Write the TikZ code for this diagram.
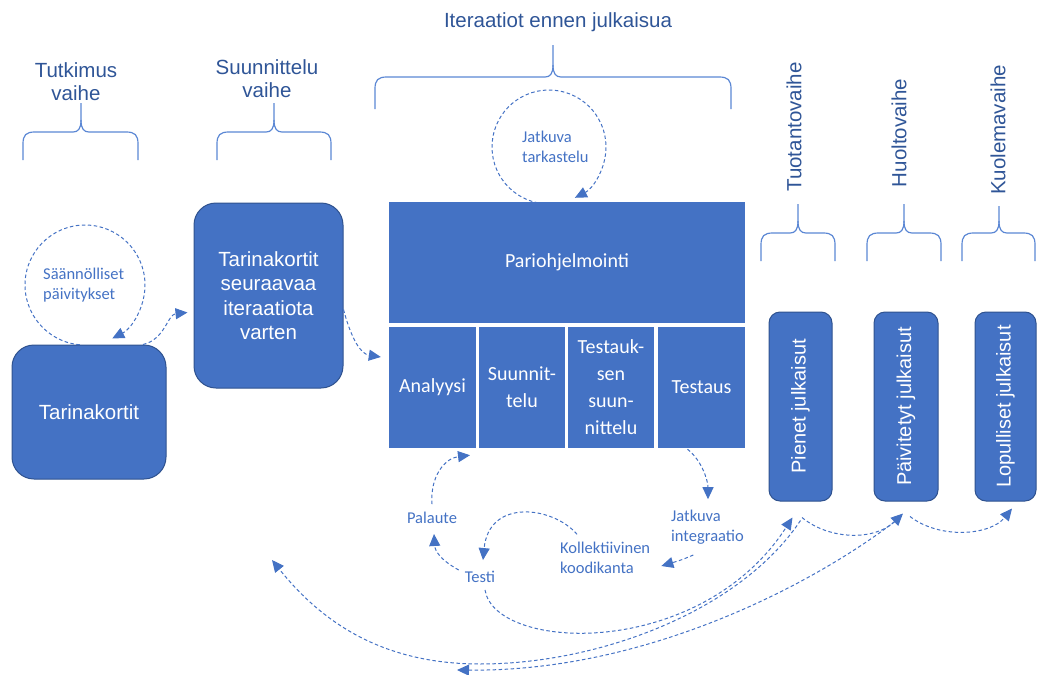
\documentclass[tikz,border=0pt]{standalone}
\usepackage{fontspec}
\setmainfont{Liberation Sans}
\newfontfamily\calfont{Carlito}
\usetikzlibrary{arrows.meta,calc}
\definecolor{boxblue}{RGB}{68,114,196}
\definecolor{boxedge}{RGB}{47,82,143}
\definecolor{headblue}{RGB}{47,85,151}
\definecolor{lineblue}{RGB}{68,114,196}
\definecolor{bracecol}{RGB}{91,135,212}
\tikzset{
  bracestyle/.style={draw=bracecol, line width=1.2pt, line join=round},
  head/.style={text=headblue, font=\fontsize{20.5}{23}\selectfont, align=center, inner sep=0pt},
  rbox/.style={fill=boxblue, draw=boxedge, line width=1pt, rounded corners=22pt, text=white,
               font=\fontsize{20.5}{24.5}\selectfont, align=center},
  relbox/.style={fill=boxblue, draw=boxedge, line width=1pt, rounded corners=11pt, text=white,
               font=\fontsize{20}{24}\selectfont, rotate=90, minimum height=63pt, minimum width=189pt},
  cell/.style={fill=boxblue, text=white, font=\calfont\fontsize{20}{27}\selectfont, align=center, inner sep=0pt},
  lbl/.style={text=lineblue, font=\calfont\fontsize{16.5}{19.5}\selectfont, inner sep=1pt},
  dl/.style={draw=lineblue, line width=1pt, dash pattern=on 3.5pt off 2.5pt,
             -{Triangle[length=12pt,width=11pt]}},
}
\newcommand\mybrace[6]{%
 \draw[bracestyle] (#1,-#6) -- (#1,{-#5-12}) .. controls (#1,{-#5-3}) and ({#1+3},-#5) .. ({#1+12},-#5) -- ({#3-8},-#5) .. controls ({#3-3},-#5) and (#3,{-#5+3}) .. (#3,{-#5+12}) -- (#3,-#4);
 \draw[bracestyle] (#3,{-#5+12}) .. controls (#3,{-#5+3}) and ({#3+3},-#5) .. ({#3+8},-#5) -- ({#2-12},-#5) .. controls ({#2-3},-#5) and (#2,{-#5-3}) .. (#2,{-#5-12}) -- (#2,-#6);
}
\begin{document}
\begin{tikzpicture}[x=1pt,y=1pt]
\useasboundingbox (0,0) rectangle (1037,-675);

% headers
\node[head] (tut) at (76,-82) {Tutkimus\\vaihe};
\node[head] (suu) at (267,-79) {Suunnittelu\\vaihe};
\node[head] (ite) at (558,-22) {Iteraatiot ennen julkaisua};
\node[head, rotate=90] (tuo) at (794,-127) {Tuotantovaihe};
\node[head, rotate=90] (huo) at (899,-133) {Huoltovaihe};
\node[head, rotate=90] (kuo) at (998,-130) {Kuolemavaihe};

% braces
\mybrace{23}{138}{81}{103}{132}{160}
\mybrace{217}{331}{274}{103}{132}{160}
\mybrace{375}{731}{553}{45}{77}{109}
\mybrace{761}{835}{798}{204}{233}{261}
\mybrace{867}{941}{904}{204}{233}{261}
\mybrace{962}{1035}{999}{206}{233}{261}

% boxes
\node[rbox, minimum width=154pt, minimum height=134pt] (tk) at (89,-412) {Tarinakortit};
\node[rbox, minimum width=149pt, minimum height=185pt] (seur) at (268.5,-295.5) {Tarinakortit\\seuraavaa\\iteraatiota\\varten};

\node[cell, minimum width=356pt, minimum height=121pt] (pari) at (567,-262.5) {Pariohjelmointi};
\node[cell, minimum width=87pt, minimum height=121pt] (ana) at (432.5,-387.5) {Analyysi};
\node[cell, minimum width=86pt, minimum height=121pt] (suun) at (522,-387.5) {Suunnit-\\telu};
\node[cell, minimum width=86pt, minimum height=121pt] (tsuun) at (611,-387.5) {Testauk-\\sen\\suun-\\nittelu};
\node[cell, minimum width=87pt, minimum height=121pt] (tst) at (701.5,-387.5) {Testaus};

\node[relbox] (pienet) at (800.5,-406.5) {Pienet julkaisut};
\node[relbox, minimum height=64pt] (paiv) at (906,-406.5) {Päivitetyt julkaisut};
\node[relbox, minimum height=61pt] (lop) at (1005.5,-406.5) {Lopulliset julkaisut};

% labels
\node[lbl, align=left, anchor=west] (saan) at (42,-285) {Säännölliset\\päivitykset};
\node[lbl, align=left, anchor=west] (jtark) at (521,-147) {Jatkuva\\tarkastelu};
\node[lbl] (pal) at (432,-518) {Palaute};
\node[lbl] (testi) at (480,-577) {Testi};
\node[lbl, align=left, anchor=west] (koll) at (559,-558) {Kollektiivinen\\koodikanta};
\node[lbl, align=left, anchor=west] (jint) at (670,-527) {Jatkuva\\integraatio};

% loop circles
\coordinate (saanc) at (85,-285);
\coordinate (jtarkc) at (549,-147);
\draw[dl] ($(saanc)+(265:60pt)$) arc[start angle=265, end angle=-63, radius=60pt];
\draw[dl] ($(jtarkc)+(265:57pt)$) arc[start angle=265, end angle=-63, radius=57pt];

% connectors
\draw[dl] ($(tk.north)+(54,0)$) .. controls +(22,5) and +(-20,-2) .. ($(seur.west)+(-6,-17)$);
\draw[dl] ($(seur.east)+(0,-14)$) .. controls +(8,-30) and +(-20,3) .. ($(ana.west)+(-8,30.5)$);
\draw[dl] ($(tst.south)+(-14,-1)$) .. controls +(15,-12) and +(0,18) .. ($(tst.south)+(6.5,-51)$);
\draw[dl] ($(koll.east)+(42,3)$) .. controls +(-12,-5) .. ($(koll.east)+(10,-8)$);
\draw[dl] ($(koll.north west)+(18,7)$) .. controls +(-24,28) and +(6,62) .. ($(testi.north)+(3,10)$);
\draw[dl] ($(testi.west)+(-5,7)$) .. controls +(-18,10) and +(1,-17) .. ($(pal.south)+(2,-9)$);
\draw[dl] ($(pal.north)+(0,7)$) .. controls +(-2,28) and +(-25,-3) .. ($(ana.south)+(37.5,-7)$);

\draw[dl] ($(testi.south)+(5,-6)$) .. controls +(10,-62) and +(-92.5,-143) .. ($(pienet.west)+(-8,-16)$);
\coordinate (leftend) at (272,-560);
\coordinate (botend) at (457,-670);
\draw[dl] ($(pienet.west)+(0,-19)$) .. controls +(-60,-90) and (600,-664) .. (480,-664) .. controls (380,-664) and (320,-620) .. (leftend);
\draw[dl] ($(paiv.west)+(-6,-16)$) .. controls +(-80,-63) and +(193,-2) .. (botend);
\draw[dl] ($(pienet.west)+(1.5,-16)$) .. controls +(28,-23) and +(-28,-27) .. ($(paiv.west)+(-3,-12)$);
\draw[dl] ($(paiv.west)+(4,-15)$) .. controls +(30,-23) and +(-22,-27) .. ($(lop.west)+(6.5,-7)$);
\end{tikzpicture}
\end{document}
